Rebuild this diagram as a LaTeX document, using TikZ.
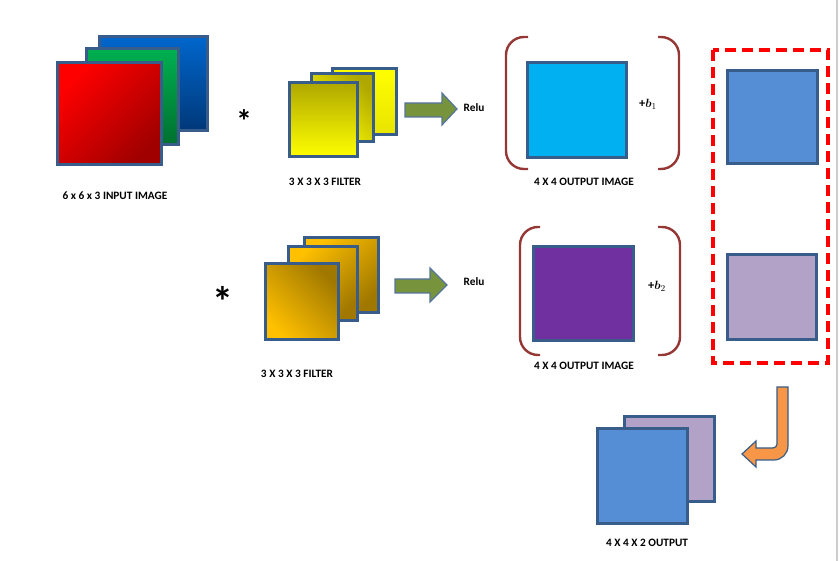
\documentclass[tikz,border=0pt]{standalone}
\usepackage{fontspec}
\setmainfont{Carlito}
\usepackage{bm}
\begin{document}
\begin{tikzpicture}[x=1pt, y=-1pt,
    sheet/.style={draw=edge, line width=3pt},
    caption/.style={font=\fontsize{11.3}{13}\selectfont\bfseries},
    bracket/.style={draw=paren, line width=2.4pt, rounded corners=18pt},
    blockarrow/.style={fill=relu, draw=edge!85, line width=1.2pt},
    star/.style={inner sep=0pt, anchor=north, font=\bfseries}]
        % Define colors (Office-like palette)
        \definecolor{edge}{RGB}{56, 93, 138}     % sheet borders
        \definecolor{paren}{RGB}{149, 55, 53}    % brackets
        \definecolor{relu}{RGB}{119, 147, 60}    % green block arrows
        \definecolor{olive}{RGB}{176, 168, 0}
        \definecolor{gold}{RGB}{255, 192, 0}
        \definecolor{darkgold}{RGB}{160, 120, 0}
        \definecolor{outblue}{RGB}{85, 142, 213}
        \definecolor{lavender}{RGB}{179, 162, 199}

        \useasboundingbox (0,0) rectangle (839,561);
        \draw[gray!40, line width=1.5pt] (837,0) -- (837,561);

        % --- INPUT: 6 x 6 x 3 image ---
        \draw[sheet, top color={rgb,255:red,0;green,102;blue,204}, bottom color={rgb,255:red,0;green,56;blue,120}] (99,37) rectangle (207,131);
        \draw[sheet, top color={rgb,255:red,0;green,176;blue,80}, bottom color={rgb,255:red,0;green,112;blue,48}] (86,49) rectangle (178,145);
        \draw[sheet, top color={rgb,255:red,255;green,0;blue,0}, bottom color={rgb,255:red,160;green,0;blue,0}, shading angle=45] (57,63) rectangle (161,165);
        \node[caption] (inlabel) at (115,196) {6 x 6 x 3 INPUT IMAGE};

        % --- TOP ROW: first filter ---
        \node[star, font=\fontsize{32}{34}\selectfont\bfseries] (conv1) at (244,109) {*};
        \draw[sheet, top color=yellow, bottom color={rgb,255:red,232;green,228;blue,0}] (332,69) rectangle (396,135);
        \draw[sheet, top color=olive, bottom color=yellow, shading angle=-45] (311,74) rectangle (373,142);
        \draw[sheet, top color=olive, bottom color=yellow] (289,83) rectangle (357,157);
        \node[caption] (f1label) at (325,182) {3 X 3 X 3 FILTER};

        % Relu arrow
        \draw[blockarrow] (405,103) -- (442,103) -- (442,93) -- (457,109) -- (442,125) -- (442,117) -- (405,117) -- cycle;
        \node[caption] (relu1) at (474,108) {Relu};

        % Output with bias
        \draw[bracket] (528,37) -- (506,37) -- (506,169) -- (528,169);
        \draw[bracket] (658,37) -- (679,37) -- (679,169) -- (658,169);
        \draw[sheet, fill={rgb,255:red,0;green,176;blue,240}] (527,63) rectangle (626,158);
        \node[font=\fontsize{12.5}{14}\selectfont] (bias1) at (648,104) {\textbf{+}$\bm{b}_{1}$};
        \node[caption] (out1label) at (584,182) {4 X 4 OUTPUT IMAGE};

        % --- BOTTOM ROW: second filter ---
        \node[star, font=\fontsize{42}{44}\selectfont\bfseries] (conv2) at (222.5,286) {*};
        \draw[sheet, top color=gold, bottom color=darkgold, shading angle=45] (304,238) rectangle (378,313);
        \draw[sheet, top color=gold, bottom color=darkgold, shading angle=45] (288,247) rectangle (357,321);
        \draw[sheet, top color=darkgold, bottom color=gold, shading angle=-45] (265,264) rectangle (338,340);
        \node[caption] (f2label) at (297,374) {3 X 3 X 3 FILTER};

        % Relu arrow
        \draw[blockarrow] (395,279) -- (430,279) -- (430,268) -- (447,285) -- (430,302) -- (430,293) -- (395,293) -- cycle;
        \node[caption] (relu2) at (474,282) {Relu};

        % Output with bias
        \draw[bracket] (540,227) -- (520,227) -- (520,355) -- (540,355);
        \draw[bracket] (658,227) -- (680,227) -- (680,355) -- (658,355);
        \draw[sheet, fill={rgb,255:red,112;green,48;blue,160}] (533,247) rectangle (633,341);
        \node[font=\fontsize{12.5}{14}\selectfont] (bias2) at (657,286) {\textbf{+}$\bm{b}_{2}$};
        \node[caption] (out2label) at (584,366) {4 X 4 OUTPUT IMAGE};

        % --- Stacked activations ---
        \draw[red, line width=3.8pt, dash pattern=on 11pt off 6pt] (713,50) rectangle (828,363);
        \draw[sheet, fill=outblue] (727,71) rectangle (817,164);
        \draw[sheet, fill=lavender] (727,255) rectangle (816,340);

        % Orange turn arrow
        \draw[fill={rgb,255:red,247;green,150;blue,70}, draw=edge, line width=1.2pt]
            (777,387) -- (788,387) -- (788,446) .. controls (788,453.7) and (781.7,460) .. (774,460)
            -- (756,460) -- (756,467) -- (742,454) -- (756,441) -- (756,448) -- (773,448)
            .. controls (775.2,448) and (777,446.2) .. (777,444) -- cycle;

        % --- FINAL: 4 x 4 x 2 output ---
        \draw[sheet, fill=lavender] (624,417) rectangle (714,502);
        \draw[sheet, fill=outblue] (597,429) rectangle (687,524);
        \node[caption] (finallabel) at (647,543) {4 X 4 X 2 OUTPUT};
\end{tikzpicture}
\end{document}
